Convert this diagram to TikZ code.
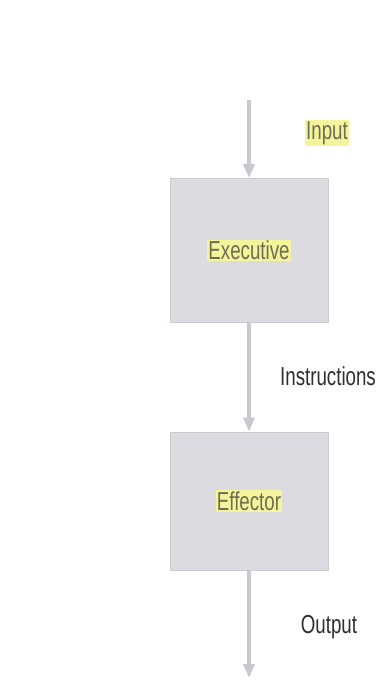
\documentclass[tikz,border=0pt]{standalone}
\usepackage{fontspec}
\usepackage{graphicx}
\setmainfont{Liberation Sans}
\usetikzlibrary{arrows.meta}
\definecolor{boxgray}{HTML}{DCDBE0}
\definecolor{boxedge}{HTML}{CCCBD3}
\definecolor{arrowgray}{HTML}{C9C8D0}
\definecolor{hiyellow}{HTML}{F4F49C}
\definecolor{hitext}{HTML}{6E6E52}
\definecolor{plaintext}{HTML}{2E2E33}
\newcommand{\cond}[1]{\scalebox{0.72}[1]{#1}}
\tikzset{
  blockbox/.style={draw=boxedge, line width=0.8pt, fill=boxgray, minimum width=158pt, inner sep=0pt},
  hilabel/.style={fill=hiyellow, text=hitext, inner sep=1pt, font=\fontsize{26}{26}\selectfont},
  plainlabel/.style={text=plaintext, inner sep=1pt, font=\fontsize{26}{26}\selectfont},
  flow/.style={draw=arrowgray, line width=4pt, -{Triangle[width=11pt,length=14pt]}}
}
\begin{document}
\begin{tikzpicture}[x=1pt,y=-1pt]
\useasboundingbox (0,0) rectangle (380,696);
\coordinate (start) at (249,100);
\coordinate (finish) at (249,678);
\node[blockbox, minimum height=144pt] (exec) at (249,250.5) {};
\node[blockbox, minimum height=138pt] (eff) at (249,501) {};
\node[hilabel] (execlabel) at (exec.center) {\cond{Executive}};
\node[hilabel] (efflabel) at (eff.center) {\cond{Effector}};
\node[hilabel] (input) at (327,133) {\cond{Input}};
\node[plainlabel] (instr) at (328,376) {\cond{Instructions}};
\node[plainlabel] (output) at (329,627) {\cond{Output}};
\draw[flow] (start) -- (exec.north);
\draw[flow] (exec.south) -- (eff.north);
\draw[flow] (eff.south) -- (finish);
\end{tikzpicture}
\end{document}
